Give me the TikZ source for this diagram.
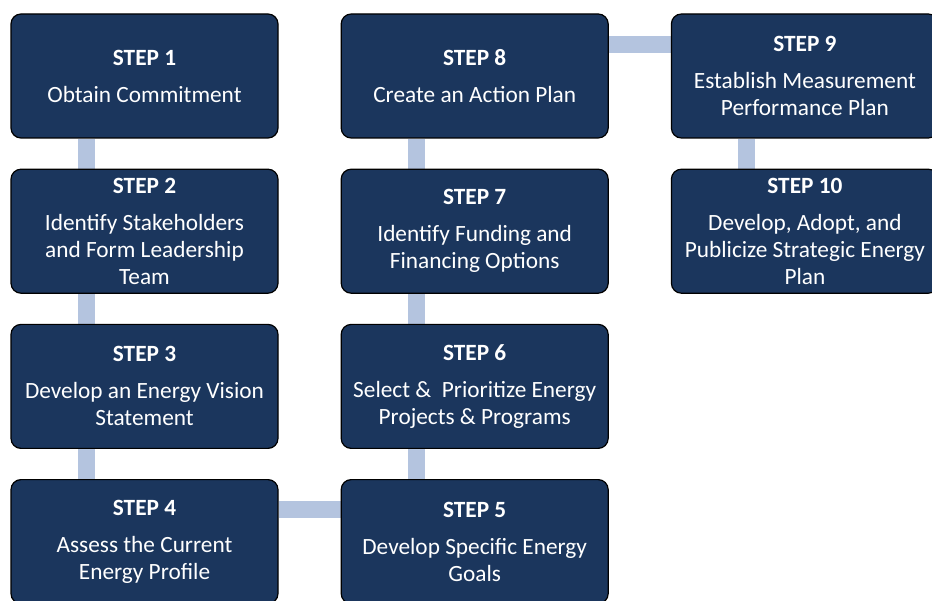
\documentclass[tikz,border=0pt]{standalone}
\usepackage{fontspec}
\setmainfont{Carlito}
\usepackage{tikz}
\usetikzlibrary{positioning}
\usetikzlibrary{backgrounds}
\definecolor{stepblue}{HTML}{1B365D}
\definecolor{linkblue}{HTML}{B4C4DF}
\tikzset{stepbox/.style={draw=black, fill=stepblue, text=white, rounded corners=10pt, minimum width=267pt, minimum height=124pt, align=center, line width=1.2pt, font=\fontsize{23.3}{27}\selectfont}}
\tikzset{link/.style={draw=linkblue, line width=17pt}}

\begin{document}
\begin{tikzpicture}[x=1pt, y=1pt, node distance={30pt and 62pt}]
		\useasboundingbox (0,0) rectangle (932,-601);
		\node[stepbox] (s1) at (144.5,-76) {\textbf{STEP 1}\\[10pt]Obtain Commitment};
		\node[stepbox] (s2) [below=of s1] {\textbf{STEP 2}\\[10pt]Identify Stakeholders\\and Form Leadership\\Team};
		\node[stepbox] (s3) [below=of s2] {\textbf{STEP 3}\\[10pt]Develop an Energy Vision\\Statement};
		\node[stepbox] (s4) [below=of s3] {\textbf{STEP 4}\\[10pt]Assess the Current\\Energy Profile};
		\node[stepbox] (s8) [right=of s1] {\textbf{STEP 8}\\[10pt]Create an Action Plan};
		\node[stepbox] (s7) [below=of s8] {\textbf{STEP 7}\\[10pt]Identify Funding and\\Financing Options};
		\node[stepbox] (s6) [below=of s7] {\textbf{STEP 6}\\[10pt]Select \&\ \ Prioritize Energy\\Projects \& Programs};
		\node[stepbox] (s5) [below=of s6] {\textbf{STEP 5}\\[10pt]Develop Specific Energy\\Goals};
		\node[stepbox] (s9) [right=of s8] {\textbf{STEP 9}\\[10pt]Establish Measurement\\Performance Plan};
		\node[stepbox] (s10) [below=of s9] {\textbf{STEP 10}\\[10pt]Develop, Adopt, and\\Publicize Strategic Energy\\Plan};
		
		\begin{scope}[on background layer]
			\draw[link] ([xshift=-58pt]s1.south) -- ([xshift=-58pt]s2.north);
			\draw[link] ([xshift=-58pt]s2.south) -- ([xshift=-58pt]s3.north);
			\draw[link] ([xshift=-58pt]s3.south) -- ([xshift=-58pt]s4.north);
			\draw[link] ([yshift=32pt]s4.east) -- ([yshift=32pt]s5.west);
			\draw[link] ([xshift=-58pt]s5.north) -- ([xshift=-58pt]s6.south);
			\draw[link] ([xshift=-58pt]s6.north) -- ([xshift=-58pt]s7.south);
			\draw[link] ([xshift=-58pt]s7.north) -- ([xshift=-58pt]s8.south);
			\draw[link] ([yshift=31.5pt]s8.east) -- ([yshift=31.5pt]s9.west);
			\draw[link] ([xshift=-58pt]s9.south) -- ([xshift=-58pt]s10.north);
		\end{scope}
	\end{tikzpicture}
\end{document}
